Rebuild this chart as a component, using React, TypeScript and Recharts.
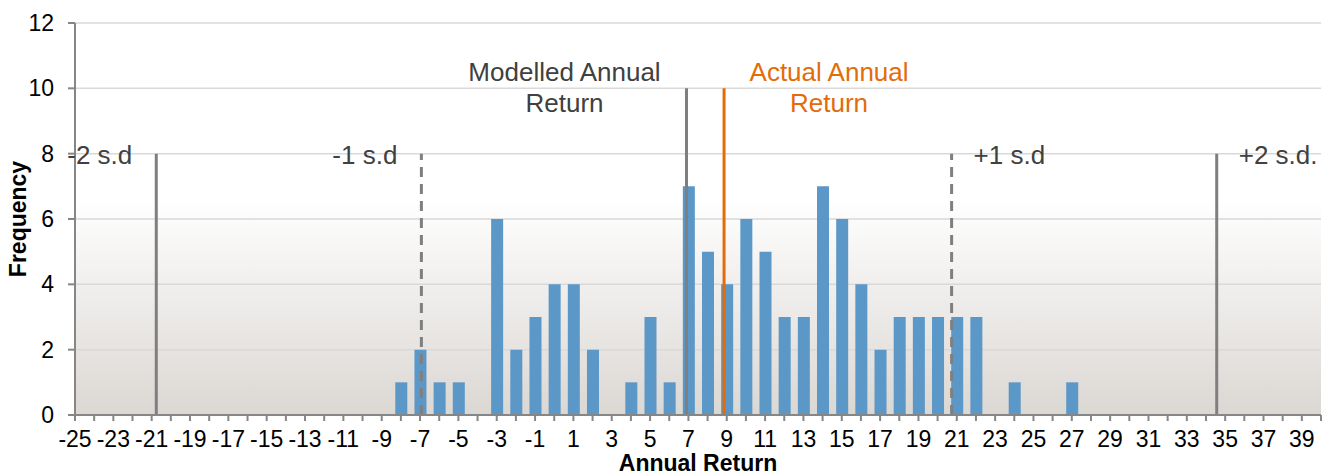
import { BarChart, Bar, XAxis, YAxis, CartesianGrid, ReferenceLine, ReferenceDot } from "recharts";

// histogram bins (annual return, %) and how many years fell in each
const returnBins = [
  -25, -24, -23, -22, -21, -20, -19, -18, -17, -16, -15, -14, -13, -12, -11, -10, -9,
  -8, -7, -6, -5, -4, -3, -2, -1, 0, 1, 2, 3, 4, 5, 6, 7, 8, 9, 10, 11, 12, 13, 14, 15,
  16, 17, 18, 19, 20, 21, 22, 23, 24, 25, 26, 27, 28, 29, 30, 31, 32, 33, 34, 35, 36, 37, 38, 39,
];
const frequencies = [
  0, 0, 0, 0, 0, 0, 0, 0, 0, 0, 0, 0, 0, 0, 0, 0, 0,
  1, 2, 1, 1, 0, 6, 2, 3, 4, 4, 2, 0, 1, 3, 1, 7, 5, 4, 6, 5, 3, 3, 7, 6,
  4, 2, 3, 3, 3, 3, 3, 0, 1, 0, 0, 1, 0, 0, 0, 0, 0, 0, 0, 0, 0, 0, 0, 0,
];

// vertical markers: mean / actual / +-1 and 2 standard deviations
const markerLabels = [["-2 s.d"], ["-1 s.d"], ["Modelled Annual", "Return"], ["Actual Annual", "Return"], ["+1 s.d"], ["+2 s.d."]];
const markerValues = [-20.76, -6.93, 6.9, 8.86, 20.73, 34.56];
const markerHeights = [8, 8, 10, 10, 8, 8];

const xTicks = Array.from({ length: 66 }, (_, i) => i - 25);
const yTicks = [0, 2, 4, 6, 8, 10, 12];

const data = returnBins.map((r, i) => ({ ret: r, freq: frequencies[i] }));

const GREY = "#7F7F7F";
const ORANGE = "#E36C09";
const TEXT_GREY = "#404040";

// per marker: line style and where its text sits relative to the top of the line
const markerStyle = [
  { stroke: GREY, dash: undefined, color: TEXT_GREY, dx: -24, dy: 10, anchor: "end" },
  { stroke: GREY, dash: "10 7", color: TEXT_GREY, dx: -24, dy: 10, anchor: "end" },
  { stroke: GREY, dash: undefined, color: TEXT_GREY, dx: -122, dy: -7, anchor: "middle" },
  { stroke: ORANGE, dash: undefined, color: ORANGE, dx: 105, dy: -7, anchor: "middle" },
  { stroke: GREY, dash: "10 7", color: TEXT_GREY, dx: 22, dy: 10, anchor: "start" },
  { stroke: GREY, dash: undefined, color: TEXT_GREY, dx: 22, dy: 10, anchor: "start" },
];

export default function App() {
  return (
    <div style={{ width: 1323, height: 475, fontFamily: "'Liberation Sans', Arial, sans-serif" }}>
      <style>{`body{margin:0}`}</style>
      <BarChart width={1323} height={475} data={data} margin={{ top: 23, right: 2, left: 0, bottom: 0 }}>
        <defs>
          <linearGradient id="plotBg" x1="0" y1="0" x2="0" y2="1">
            <stop offset="0" stopColor="#FFFFFF" />
            <stop offset="0.45" stopColor="#FFFFFF" />
            <stop offset="1" stopColor="#DBD7D3" />
          </linearGradient>
        </defs>
        <CartesianGrid vertical={false} stroke="#D9D9D9" strokeWidth={1.5} fill="url(#plotBg)" fillOpacity={1} />
        <XAxis
          dataKey="ret"
          type="number"
          domain={[-25, 40]}
          ticks={xTicks}
          interval={0}
          height={60}
          tickFormatter={(v: number) => (Math.abs(v % 2) === 1 && v <= 39 ? String(v) : "")}
          tick={{ fill: "#000", fontSize: 23 }}
          tickSize={6}
          tickMargin={10}
          stroke="#868686"
          strokeWidth={2}
          allowDecimals={false}
          label={{ value: "Annual Return", position: "insideBottom", offset: 4, style: { fontWeight: "bold", fontSize: 23, fill: "#000" } }}
        />
        <YAxis
          domain={[0, 12]}
          ticks={yTicks}
          width={75}
          interval={0}
          tick={{ fill: "#000", fontSize: 23 }}
          tickSize={7}
          tickMargin={14}
          stroke="#868686"
          strokeWidth={2}
          label={{ value: "Frequency", angle: -90, position: "insideLeft", offset: 18, style: { textAnchor: "middle", fontWeight: "bold", fontSize: 23, fill: "#000" } }}
        />
        <Bar dataKey="freq" fill="#5B97C7" barSize={12} isAnimationActive={false} />
        {markerValues.map((x, i) => (
          <ReferenceLine
            key={"l" + i}
            segment={[{ x, y: 0 }, { x, y: markerHeights[i] }]}
            stroke={markerStyle[i].stroke}
            strokeWidth={3}
            strokeDasharray={markerStyle[i].dash}
            ifOverflow="visible"
          />
        ))}
        {markerValues.map((x, i) => (
          <ReferenceDot
            key={"t" + i}
            x={x}
            y={markerHeights[i]}
            r={0}
            ifOverflow="visible"
            shape={(p: any) => (
              <text
                x={p.cx + markerStyle[i].dx}
                y={p.cy + markerStyle[i].dy}
                textAnchor={markerStyle[i].anchor}
                fill={markerStyle[i].color}
                fontSize={26}
              >
                {markerLabels[i].map((line, j) => (
                  <tspan key={j} x={p.cx + markerStyle[i].dx} dy={j === 0 ? 0 : 31}>
                    {line}
                  </tspan>
                ))}
              </text>
            )}
          />
        ))}
      </BarChart>
    </div>
  );
}
